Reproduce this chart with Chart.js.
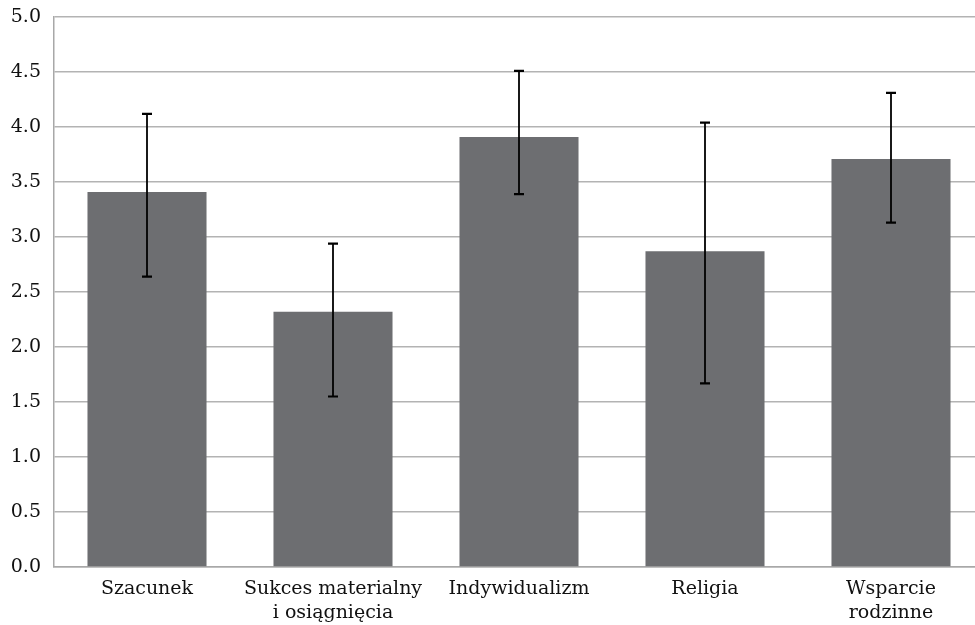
<!DOCTYPE html>
<html>
<head>
<meta charset="utf-8">
<script src="https://cdn.jsdelivr.net/npm/chart.js@4"></script>
<style>
html,body{margin:0;padding:0;background:#fff;overflow:hidden;}
#wrap{width:990px;height:625px;position:relative;}
</style>
</head>
<body>
<div id="wrap"><canvas id="c"></canvas></div>
<script>
const categories = ["Szacunek", ["Sukces materialny","i osiągnięcia"], "Indywidualizm", "Religia", ["Wsparcie","rodzinne"]];
const means = [3.41, 2.32, 3.91, 2.87, 3.71];
const errLow = [2.64, 1.55, 3.39, 1.67, 3.13];
const errHigh = [4.12, 2.94, 4.51, 4.04, 4.31];
const yTicks = [0,0.5,1,1.5,2,2.5,3,3.5,4,4.5,5];

const errorBars = {
  id: 'errorBars',
  afterDatasetsDraw(chart) {
    const ctx = chart.ctx;
    const meta = chart.getDatasetMeta(0);
    const ys = chart.scales.y;
    ctx.save();
    ctx.strokeStyle = '#000';
    meta.data.forEach((bar, i) => {
      const x = Math.round(bar.x);
      const yl = ys.getPixelForValue(errLow[i]);
      const yh = ys.getPixelForValue(errHigh[i]);
      ctx.lineWidth = 1.8;
      ctx.beginPath();
      ctx.moveTo(x, yl); ctx.lineTo(x, yh);
      ctx.stroke();
      ctx.lineWidth = 2.2;
      ctx.beginPath();
      ctx.moveTo(x-5, yl); ctx.lineTo(x+5, yl);
      ctx.moveTo(x-5, yh); ctx.lineTo(x+5, yh);
      ctx.stroke();
    });
    ctx.restore();
  }
};

new Chart(document.getElementById('c'), {
  type: 'bar',
  data: {
    labels: categories,
    datasets: [{
      data: means,
      backgroundColor: '#6d6e71',
      borderWidth: 0,
      categoryPercentage: 1.0,
      barPercentage: 0.64
    }]
  },
  options: {
    responsive: true,
    maintainAspectRatio: false,
    animation: false,
    layout: { padding: { top: 17, right: 6, left: 0, bottom: 0 } },
    plugins: { legend: { display: false }, tooltip: { enabled: false } },
    scales: {
      y: {
        min: 0, max: 5,
        afterBuildTicks(axis) { axis.ticks = yTicks.map(v => ({value: v})); },
        afterFit(axis) { axis.width = 54; axis.paddingTop = 0; axis.paddingBottom = 0; },
        ticks: {
          color: '#111',
          font: { family: 'DejaVu Serif', size: 19 },
          padding: 13,
          callback: v => Number(v).toFixed(1)
        },
        grid: { color: '#b3b3b3', lineWidth: 1.5, drawTicks: false },
        border: { display: true, color: '#a8a8a8', width: 1.5 }
      },
      x: {
        afterFit(axis) { axis.height = 58; },
        ticks: {
          color: '#111',
          font: { family: 'DejaVu Serif', size: 19, lineHeight: 1.25 },
          padding: 10,
          maxRotation: 0, autoSkip: false
        },
        grid: { display: false, drawTicks: false },
        border: { display: true, color: '#a8a8a8', width: 1.5 }
      }
    }
  },
  plugins: [errorBars]
});
</script>
</body>
</html>
